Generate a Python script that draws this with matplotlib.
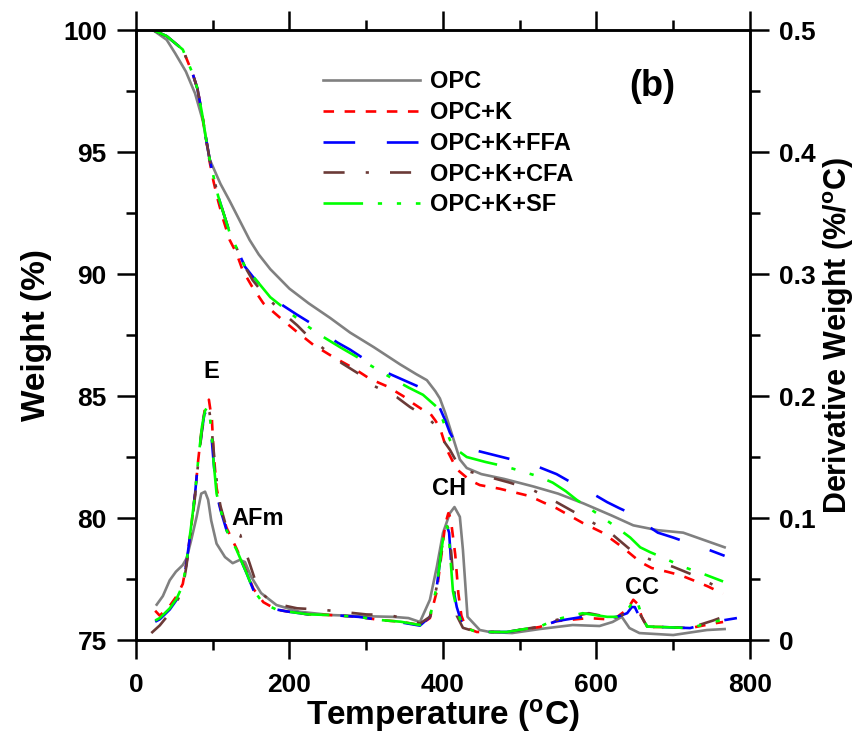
import matplotlib
matplotlib.use('Agg')
import matplotlib.pyplot as plt
from matplotlib.ticker import MultipleLocator, FuncFormatter

plt.rcParams['font.family'] = ['Liberation Sans', 'DejaVu Sans']
plt.rcParams['font.weight'] = 'bold'
plt.rcParams['mathtext.fontset'] = 'custom'
plt.rcParams['mathtext.rm'] = 'Liberation Sans:bold'
plt.rcParams['mathtext.bf'] = 'Liberation Sans:bold'
plt.rcParams['mathtext.it'] = 'Liberation Sans:bold'

labels = ['OPC', 'OPC+K', 'OPC+K+FFA', 'OPC+K+CFA', 'OPC+K+SF']
colors = ['#808080', '#ff0000', '#0000ff', '#6b3a37', '#00ff00']
styles = ['-', (0, (4, 4)), (0, (12, 12)), (0, (8, 8, 1.2, 8)),
          (0, (15, 5.6, 1.6, 5.6, 1.6, 5.6))]

# ---- TGA weight (%) ----
tga_opc_t = [22, 40, 51, 65, 77, 87, 96, 110, 122, 135, 148, 160, 175, 200, 225, 253, 279,
             310, 344, 365, 379, 390, 396, 403, 409, 416, 422, 431, 450, 480, 517, 550, 583,
             620, 648, 680, 713, 740, 767]
tga_opc_w = [100, 99.6, 99.05, 98.3, 97.4, 96.3, 94.7, 93.7, 93.0, 92.2, 91.4, 90.8, 90.2,
             89.4, 88.8, 88.2, 87.6, 87.0, 86.3, 85.9, 85.65, 85.2, 84.9, 84.3, 83.7, 83.0,
             82.4, 82.05, 81.8, 81.6, 81.3, 81.0, 80.6, 80.1, 79.7, 79.5, 79.4, 79.1, 78.8]

tga_k_t = [22, 40, 61, 74, 80, 86, 91, 96, 101, 107, 114, 122, 131, 139, 151, 166, 188, 207,
           231, 257, 283, 305, 327, 348, 361, 373, 383, 390, 396, 405, 418, 435, 448, 474,
           513, 530, 548, 565, 582, 608, 634, 657, 672, 692, 710, 726, 745, 765]
tga_k_w = [100, 99.75, 99.2, 98.2, 97.6, 96.6, 95.6, 94.6, 93.8, 93.0, 92.2, 91.4, 90.85,
           90.15, 89.5, 88.8, 88.2, 87.7, 87.1, 86.6, 86.15, 85.7, 85.4, 85.0, 84.7, 84.45,
           84.3, 84.0, 83.7, 82.8, 82.0, 81.55, 81.35, 81.2, 80.9, 80.65, 80.4, 80.1, 79.8,
           79.4, 78.8, 78.2, 77.95, 77.8, 77.65, 77.45, 77.2, 76.9]

tga_ffa_t = [22, 40, 61, 74, 80, 86, 91, 96, 101, 107, 114, 122, 132, 142, 152, 162, 175, 192,
             209, 227, 244, 262, 279, 296, 313, 331, 349, 367, 382, 390, 396, 403, 409, 418,
             428, 439, 458, 477, 496, 516, 532, 548, 562, 576, 595, 614, 630, 644, 661, 680,
             700, 718, 742, 767]
tga_ffa_w = [100, 99.75, 99.2, 98.2, 97.6, 96.6, 95.6, 94.7, 94.0, 93.2, 92.5, 91.7, 91.0,
             90.3, 89.9, 89.55, 89.1, 88.7, 88.35, 88.0, 87.6, 87.2, 86.9, 86.55, 86.2, 85.9,
             85.65, 85.4, 85.0, 84.8, 84.5, 84.0, 83.5, 83.0, 82.85, 82.8, 82.65, 82.5, 82.35,
             82.2, 82.0, 81.8, 81.55, 81.3, 81.0, 80.65, 80.4, 80.2, 79.8, 79.4, 79.2, 79.0,
             78.75, 78.45]

tga_cfa_t = [22, 40, 61, 74, 80, 86, 91, 96, 101, 107, 114, 122, 132, 142, 152, 166, 188, 210,
             226, 244, 268, 296, 311, 340, 357, 370, 379, 390, 400, 409, 416, 422, 435, 452,
             487, 517, 548, 582, 618, 648, 670, 700, 731, 765]
tga_cfa_w = [100, 99.75, 99.2, 98.2, 97.6, 96.6, 95.6, 94.7, 94.0, 93.2, 92.5, 91.7, 91.0,
             90.3, 89.75, 89.2, 88.5, 87.9, 87.4, 86.95, 86.35, 85.8, 85.4, 84.95, 84.55, 84.3,
             84.15, 83.8, 83.2, 82.8, 82.4, 82.05, 81.9, 81.75, 81.45, 81.15, 80.65, 80.05,
             79.4, 78.6, 78.3, 78.0, 77.6, 77.05]

tga_sf_t = [22, 40, 61, 74, 80, 86, 91, 96, 101, 107, 114, 122, 132, 142, 158, 175, 197, 216,
            240, 266, 288, 311, 335, 355, 374, 392, 400, 409, 418, 431, 455, 483, 504, 525,
            543, 560, 574, 600, 627, 644, 657, 670, 685, 713, 740, 765]
tga_sf_w = [100, 99.75, 99.2, 98.2, 97.6, 96.6, 95.6, 94.7, 94.0, 93.2, 92.5, 91.7, 91.0,
            90.3, 89.7, 89.05, 88.5, 88.03, 87.5, 87.0, 86.6, 86.15, 85.7, 85.35, 85.05, 84.55,
            84.0, 83.2, 82.8, 82.5, 82.3, 82.1, 81.9, 81.7, 81.45, 81.1, 80.75, 80.2, 79.6,
            79.2, 78.8, 78.6, 78.4, 78.0, 77.7, 77.4]

# ---- DTG derivative weight (%/oC) ----
dtg_opc_t = [27, 35, 44, 52, 61, 66, 72, 79, 85, 90, 94, 98, 105, 116, 126, 135, 142, 150,
             163, 183, 213, 253, 300, 335, 355, 370, 383, 392, 400, 409, 415, 422, 426, 429,
             432, 448, 461, 490, 526, 569, 604, 621, 633, 643, 656, 700, 744, 767]
dtg_opc_d = [0.029, 0.036, 0.049, 0.056, 0.0615, 0.067, 0.082, 0.101, 0.12, 0.1216, 0.115,
             0.098, 0.079, 0.068, 0.063, 0.0656, 0.064, 0.052, 0.0385, 0.0287, 0.0232, 0.0205,
             0.0195, 0.019, 0.018, 0.0148, 0.033, 0.06, 0.0877, 0.104, 0.109, 0.101, 0.074,
             0.0467, 0.019, 0.0082, 0.0066, 0.0057, 0.009, 0.0123, 0.0115, 0.0148, 0.019,
             0.0098, 0.0057, 0.0041, 0.0082, 0.009]

dtg_k_t = [25, 31, 44, 53, 61, 66, 72, 77, 81, 86, 90, 95, 99, 101, 105, 110, 118, 131, 144,
           153, 166, 183, 196, 225, 253, 290, 318, 345, 370, 383, 392, 398, 403, 407, 410, 413,
           416, 420, 424, 430, 444, 483, 526, 548, 590, 614, 627, 640, 648, 653, 659, 666,
           683, 722, 752, 765]
dtg_k_d = [0.024, 0.02, 0.028, 0.036, 0.046, 0.064, 0.093, 0.12, 0.147, 0.175, 0.19, 0.197,
           0.18, 0.155, 0.125, 0.108, 0.092, 0.075, 0.056, 0.042, 0.031, 0.025, 0.0235, 0.021,
           0.0205, 0.019, 0.0164, 0.015, 0.0123, 0.018, 0.04, 0.07, 0.095, 0.104, 0.1, 0.085,
           0.07, 0.0385, 0.02, 0.01, 0.0066, 0.0066, 0.0107, 0.0155, 0.018, 0.017, 0.019,
           0.025, 0.033, 0.03, 0.019, 0.0107, 0.0107, 0.0098, 0.0135, 0.0148]

dtg_ffa_t = [25, 31, 44, 53, 61, 66, 72, 77, 81, 86, 89, 92, 95, 98, 101, 105, 110, 118, 131,
             144, 153, 166, 183, 196, 225, 253, 290, 318, 345, 370, 383, 392, 398, 403, 405,
             408, 411, 414, 418, 426, 444, 483, 526, 548, 582, 614, 627, 640, 646, 650, 656,
             666, 683, 722, 752, 783]
dtg_ffa_d = [0.015, 0.017, 0.025, 0.033, 0.044, 0.064, 0.093, 0.12, 0.147, 0.172, 0.185,
             0.188, 0.185, 0.17, 0.147, 0.12, 0.107, 0.09, 0.074, 0.055, 0.041, 0.03, 0.025,
             0.0235, 0.021, 0.0205, 0.019, 0.0164, 0.0145, 0.0118, 0.019, 0.044, 0.074,
             0.09, 0.094, 0.088, 0.06, 0.04, 0.027, 0.0107, 0.0066, 0.0066, 0.0107, 0.0155,
             0.019, 0.018, 0.019, 0.022, 0.027, 0.027, 0.019, 0.0107, 0.0107, 0.0098, 0.0148,
             0.018]

dtg_cfa_t = [20, 31, 44, 53, 61, 66, 72, 77, 81, 86, 90, 93, 96, 99, 102, 106, 110, 118, 123,
             130, 136, 138, 148, 160, 180, 210, 240, 270, 300, 330, 360, 370, 383, 392, 398,
             403, 405, 408, 411, 414, 418, 426, 444, 483, 526, 548, 590, 614, 627, 640, 650,
             656, 666, 683, 722, 752, 765]
dtg_cfa_d = [0.0057, 0.012, 0.022, 0.031, 0.042, 0.062, 0.09, 0.118, 0.145, 0.172, 0.186,
             0.19, 0.186, 0.17, 0.15, 0.125, 0.11, 0.092, 0.0885, 0.087, 0.086, 0.081, 0.063,
             0.04, 0.03, 0.026, 0.025, 0.023, 0.021, 0.0205, 0.016, 0.0135, 0.019, 0.044,
             0.074, 0.09, 0.094, 0.09, 0.07, 0.045, 0.02, 0.01, 0.0066, 0.0066, 0.011,
             0.0165, 0.022, 0.019, 0.019, 0.022, 0.026, 0.022, 0.011, 0.0107, 0.01, 0.016,
             0.019]

dtg_sf_t = [25, 31, 44, 53, 61, 66, 72, 77, 81, 86, 90, 93, 96, 99, 101, 105, 110, 118, 131,
            144, 153, 166, 183, 196, 225, 253, 290, 318, 345, 370, 383, 392, 398, 402, 404,
            407, 410, 413, 418, 426, 444, 483, 526, 548, 582, 614, 627, 640, 648, 652, 658,
            666, 683, 722, 752, 765]
dtg_sf_d = [0.016, 0.018, 0.026, 0.034, 0.045, 0.065, 0.094, 0.12, 0.147, 0.175, 0.188,
            0.191, 0.185, 0.165, 0.147, 0.12, 0.107, 0.09, 0.074, 0.055, 0.041, 0.03, 0.025,
            0.0235, 0.021, 0.0205, 0.019, 0.0164, 0.015, 0.0123, 0.019, 0.044, 0.074, 0.09,
            0.095, 0.09, 0.065, 0.04, 0.025, 0.0107, 0.0066, 0.0066, 0.011, 0.017, 0.022,
            0.019, 0.019, 0.024, 0.032, 0.034, 0.022, 0.011, 0.0107, 0.0098, 0.0148, 0.0164]

tga = [(tga_opc_t, tga_opc_w), (tga_k_t, tga_k_w), (tga_ffa_t, tga_ffa_w),
       (tga_cfa_t, tga_cfa_w), (tga_sf_t, tga_sf_w)]
dtg = [(dtg_opc_t, dtg_opc_d), (dtg_k_t, dtg_k_d), (dtg_ffa_t, dtg_ffa_d),
       (dtg_cfa_t, dtg_cfa_d), (dtg_sf_t, dtg_sf_d)]

fig = plt.figure(figsize=(8.65, 7.47), dpi=100)
ax = fig.add_axes([0.1572, 0.1432, 0.7098, 0.8166])
ax2 = ax.twinx()

lw = 1.9
for (t, w), lab, c, ls in zip(tga, labels, colors, styles):
    ax.plot(t, w, color=c, linestyle=ls, lw=lw, label=lab)
for (t, d), c, ls in zip(dtg, colors, styles):
    ax2.plot(t, d, color=c, linestyle=ls, lw=lw)

ax.set_xlim(0, 800)
ax.set_ylim(75, 100)
ax2.set_ylim(0, 0.5)

ax.xaxis.set_major_locator(MultipleLocator(200))
ax.xaxis.set_minor_locator(MultipleLocator(100))
ax.yaxis.set_major_locator(MultipleLocator(5))
ax.yaxis.set_minor_locator(MultipleLocator(2.5))
ax2.yaxis.set_major_locator(MultipleLocator(0.1))
ax2.yaxis.set_minor_locator(MultipleLocator(0.05))
ax2.yaxis.set_major_formatter(FuncFormatter(lambda v, p: '0' if abs(v) < 1e-9 else f'{v:.1f}'))

for a in (ax, ax2):
    a.tick_params(which='major', direction='out', length=14, width=1.8, labelsize=19, pad=7)
    a.tick_params(which='minor', direction='out', length=7, width=1.8)
    for s in a.spines.values():
        s.set_linewidth(1.8)
ax.tick_params(which='both', top=True)
ax.tick_params(axis='x', pad=10)

ax.set_xlabel(r'Temperature ($^{\mathbf{o}}$C)', fontsize=24, fontweight='bold', labelpad=0)
ax.set_ylabel('Weight (%)', fontsize=24, fontweight='bold', labelpad=8)
ax2.set_ylabel(r'Derivative Weight (%/$^{\mathbf{o}}$C)', fontsize=22, fontweight='bold',
               labelpad=4)

leg = ax2.legend(*ax.get_legend_handles_labels(), loc='upper left',
                 bbox_to_anchor=(0.3046, 0.934), frameon=False, fontsize=17,
                 handlelength=4.1, handletextpad=0.45, labelspacing=0.33,
                 borderpad=0, borderaxespad=0)

ax2.text(673, 0.454, '(b)', fontsize=26, fontweight='bold', ha='center', va='center')
ax2.text(98, 0.220, 'E', fontsize=17, fontweight='bold', ha='center', va='center')
ax2.text(159, 0.100, 'AFm', fontsize=17, fontweight='bold', ha='center', va='center')
ax2.text(408, 0.124, 'CH', fontsize=17, fontweight='bold', ha='center', va='center')
ax2.text(659, 0.043, 'CC', fontsize=17, fontweight='bold', ha='center', va='center')

fig.savefig('out.png', dpi=100)
